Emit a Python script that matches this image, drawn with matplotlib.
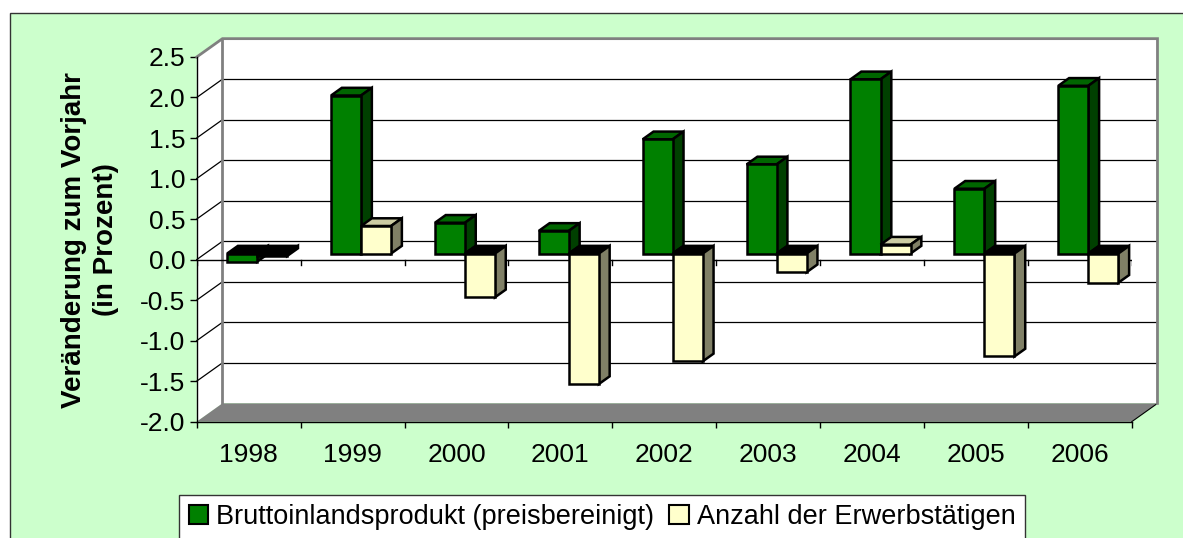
import numpy as np
import matplotlib
matplotlib.use("Agg")
import matplotlib.pyplot as plt
from matplotlib.patches import Polygon, Rectangle, Patch
from matplotlib.ticker import FormatStrFormatter

plt.rcParams['font.family'] = ['Liberation Sans', 'DejaVu Sans']
plt.rcParams['axes.unicode_minus'] = False

# data (change vs. previous year, percent)
years = ['1998', '1999', '2000', '2001', '2002', '2003', '2004', '2005', '2006']
bip = [-0.10, 1.95, 0.38, 0.28, 1.41, 1.10, 2.15, 0.80, 2.07]
erwerb = [-0.03, 0.34, -0.54, -1.61, -1.33, -0.23, 0.11, -1.27, -0.36]
series_names = ['Bruttoinlandsprodukt (preisbereinigt)', 'Anzahl der Erwerbstätigen']
yticks = np.arange(-2.0, 2.51, 0.5)

# colours: front, side, top
GREEN = ('#008000', '#004000', '#006600')
CREAM = ('#FFFFCC', '#808066', '#CCCCA3')
BG = '#CCFFCC'

# fake-3d geometry (category units / value units)
DX, DY = 0.2474, 0.226      # full depth of the box
F0, FD = 0.33, 0.42         # bar front plane and bar depth as fraction of DX/DY
BW = 0.289                  # bar width
FS = 19

fig = plt.figure(figsize=(11.83, 5.38), dpi=100)
fig.patches.append(Rectangle((10 / 1183, -0.1), 1.2, 1.1 - 13 / 538, transform=fig.transFigure,
                             facecolor=BG, edgecolor='#333333', lw=1, zorder=-10))

ax = fig.add_axes([0.1663, 0.2162, 0.7904, 0.6779])
ax.patch.set_alpha(0)
n = len(years)
ymin, ymax = yticks[0], yticks[-1]
ax.set_xlim(0, n)
ax.set_ylim(ymin, ymax)

# walls and floor
ax.add_patch(Polygon([(DX, ymin + DY), (n + DX, ymin + DY), (n + DX, ymax + DY), (DX, ymax + DY)],
                     facecolor='white', edgecolor='none', clip_on=False, zorder=1))
ax.add_patch(Polygon([(0, ymin), (DX, ymin + DY), (DX, ymax + DY), (0, ymax)],
                     facecolor='white', edgecolor='none', clip_on=False, zorder=1))
ax.add_patch(Polygon([(0, ymin), (n, ymin), (n + DX, ymin + DY), (DX, ymin + DY)],
                     facecolor='#808080', edgecolor='none', clip_on=False, zorder=1))
ax.plot([n, n + DX], [ymin, ymin + DY], color='black', lw=0.8, clip_on=False, zorder=2)

# gridlines on back wall and side wall
for v in yticks[1:-1]:
    ax.plot([DX, n + DX], [v + DY, v + DY], color='black', lw=0.9, clip_on=False, zorder=2)
    ax.plot([0, DX], [v, v + DY], color='black', lw=0.9, clip_on=False, zorder=2)

# grey frame of the walls
ax.plot([0, DX, n + DX, n + DX], [ymax, ymax + DY, ymax + DY, ymin + DY],
        color='#808080', lw=2, clip_on=False, zorder=2, solid_joinstyle='miter')
ax.plot([DX, DX], [ymin + DY, ymax + DY], color='#808080', lw=2, clip_on=False, zorder=2)

# category axis at zero with tick marks
ax.plot([0, n], [0, 0], color='black', lw=1, zorder=2)
for i in range(n + 1):
    ax.plot([i, i], [0, -0.065], color='black', lw=1, zorder=2)


def box(x0, v, cols):
    fx, fy = F0 * DX, F0 * DY
    bx, by = (F0 + FD) * DX, (F0 + FD) * DY
    lo, hi = min(0, v), max(0, v)
    top_col = cols[2] if v >= 0 else 'black'
    kw = dict(edgecolor='black', lw=1.8, joinstyle='miter', zorder=3)
    ax.add_patch(Polygon([(x0 + fx, hi + fy), (x0 + BW + fx, hi + fy),
                          (x0 + BW + bx, hi + by), (x0 + bx, hi + by)], facecolor=top_col, **kw))
    ax.add_patch(Polygon([(x0 + BW + fx, lo + fy), (x0 + BW + bx, lo + by),
                          (x0 + BW + bx, hi + by), (x0 + BW + fx, hi + fy)], facecolor=cols[1], **kw))
    ax.add_patch(Rectangle((x0 + fx, lo + fy), BW, hi - lo, facecolor=cols[0], **kw))


for i in range(n):
    c = i + 0.5
    box(c - BW, bip[i], GREEN)
    box(c, erwerb[i], CREAM)

# axes
for s in ['top', 'right']:
    ax.spines[s].set_visible(False)
ax.spines['left'].set_linewidth(1)
ax.spines['bottom'].set_linewidth(1)
ax.spines['left'].set_zorder(4)
ax.spines['bottom'].set_zorder(4)
ax.set_yticks(yticks)
ax.yaxis.set_major_formatter(FormatStrFormatter('%.1f'))
ax.tick_params(axis='y', direction='out', length=4.8, width=1, pad=3.6, labelsize=FS)
ax.set_xticks(np.arange(n + 1))
ax.set_xticklabels([])
ax.set_xticks(np.arange(n) + 0.5, minor=True)
ax.set_xticklabels(years, minor=True)
ax.tick_params(axis='x', which='major', direction='out', length=4.3, width=1)
ax.tick_params(axis='x', which='minor', length=0, pad=15, labelsize=FS)

fig.text(90 / 1183, 1 - 240 / 538, 'Veränderung zum Vorjahr\n(in Prozent)', rotation=90,
         ha='center', va='center', multialignment='center', fontsize=20, fontweight='bold',
         linespacing=1.3)

handles = [Patch(facecolor=GREEN[0], edgecolor='black', lw=1.5),
           Patch(facecolor=CREAM[0], edgecolor='black', lw=1.5)]
leg = fig.legend(handles, series_names, loc='center', bbox_to_anchor=(602 / 1183, 1 - 517 / 538),
                 ncol=2, fontsize=19.5, frameon=True, fancybox=False, framealpha=1,
                 handlelength=0.72, handleheight=0.72, handletextpad=0.3, columnspacing=0.55,
                 borderpad=0.35, edgecolor='#333333')
leg.get_frame().set_linewidth(1)

fig.savefig('out.png', dpi=100)
